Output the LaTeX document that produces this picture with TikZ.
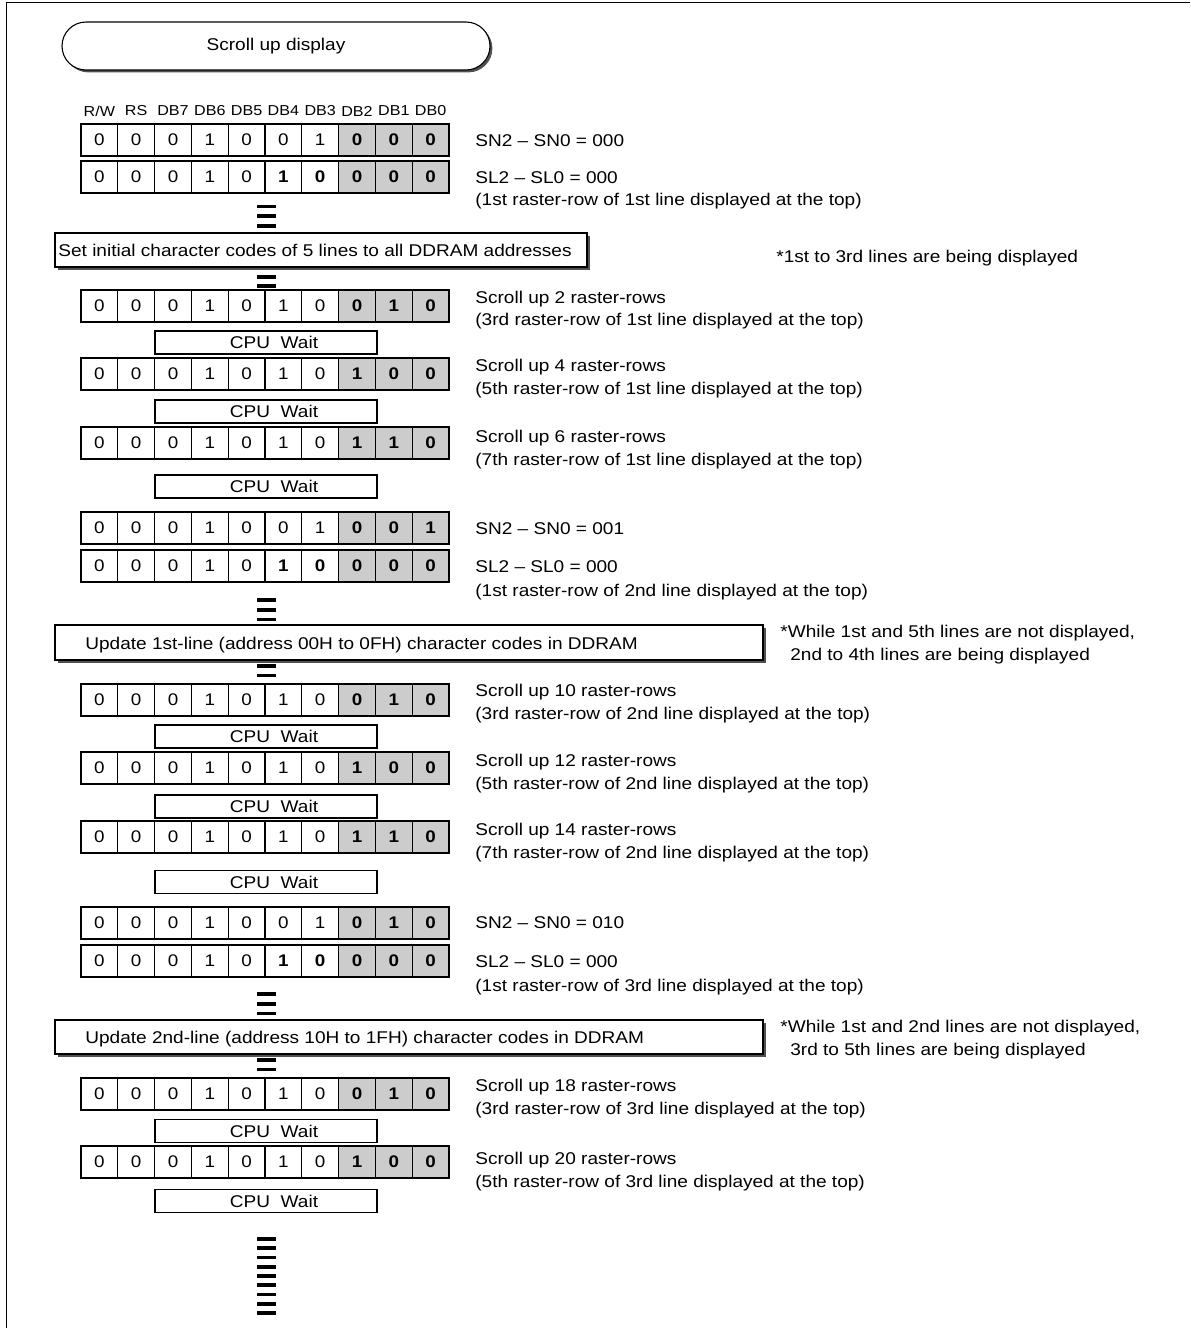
\documentclass[tikz,border=0pt]{standalone}
\usepackage{fontspec}
\setmainfont{Liberation Sans}[FakeStretch=1.12]
\usetikzlibrary{shadows,shapes.misc}
\definecolor{cellgray}{HTML}{CCCCCC}
\definecolor{shadowgray}{HTML}{505050}
\tikzset{
  cell/.style={draw, line width=0.55pt, minimum width=18.4pt, minimum height=16pt,
    inner sep=0pt, font=\fontsize{8.4}{9}\selectfont},
  gcell/.style={cell, fill=cellgray, font=\fontsize{8.4}{9}\selectfont\bfseries},
  hdr/.style={inner sep=0pt, font=\fontsize{7.2}{8}\selectfont},
  note/.style={anchor=west, inner sep=0pt, text height=6.1pt, text depth=0pt,
    font=\fontsize{8.5}{9.5}\selectfont},
  waitbox/.style={draw, line width=0.55pt, minimum width=111pt, minimum height=11.5pt,
    inner sep=0pt, font=\fontsize{8.5}{9}\selectfont},
  bigbox/.style={draw, fill=white, line width=0.55pt, inner sep=0pt,
    drop shadow={shadow xshift=1.4pt, shadow yshift=-1.4pt, fill=shadowgray, opacity=1}},
  boxtext/.style={anchor=west, inner sep=0pt, text height=6.1pt, text depth=0pt,
    font=\fontsize{8.5}{9.5}\selectfont},
  bar/.style={fill=black},
}
\newcommand\waittext{\hspace*{8pt}CPU\ \ Wait}
% #1 name, #2 top y (px), #3 ten entries
\newcommand\bitrow[3]{%
  \foreach \v [count=\i] in {#3} {%
    \ifnum\i>7
      \node[gcell] (#1-\i) at ({81+(\i-0.5)*36.8},{#2+16}) {\v};
    \else
      \node[cell] (#1-\i) at ({81+(\i-0.5)*36.8},{#2+16}) {\v};
    \fi
  }%
}
% #1 first centre y, #2 count, #3 spacing
\newcommand\barstack[3]{%
  \foreach \k in {1,...,#2} {%
    \fill[bar] (257,{#1+(\k-1)*#3-1.9}) rectangle (276,{#1+(\k-1)*#3+1.9});
  }%
}
\begin{document}
\begin{tikzpicture}[x=0.5pt,y=-0.5pt]
\useasboundingbox (0,0) rectangle (1190,1328);
% frame
\draw[line width=0.8pt] (6.5,1328) -- (6.5,2.5) -- (1190,2.5);

% separator bars (drawn first, boxes overlap them)
\barstack{206.5}{3}{9.8}
\barstack{267}{3}{9.6}
\barstack{600}{3}{9.7}
\barstack{656}{3}{9.7}
\barstack{994}{3}{9.7}
\barstack{1050}{3}{9.7}
\barstack{1239}{9}{9.25}

% title
\node[draw, fill=white, line width=0.55pt, rounded rectangle, minimum width=214pt,
  minimum height=24pt, inner sep=0pt,
  drop shadow={shadow xshift=1.2pt, shadow yshift=-1.2pt, fill=shadowgray, opacity=1},
  font=\fontsize{8.5}{9}\selectfont] (title) at (276,46) {Scroll up display};

% header
\foreach \h [count=\i] in {R/W,RS,DB7,DB6,DB5,DB4,DB3,DB2,DB1,DB0} {
  \node[hdr] (hdr-\i) at ({81+(\i-0.5)*36.8},111) {\h};
}

% block A
\bitrow{a1}{124}{0,0,0,1,0,0,1,0,0,0}
\bitrow{a2}{161}{0,0,0,1,0,\textbf{1},\textbf{0},0,0,0}
\node[note] (na1) at (475,140) {SN2 -- SN0 = 000};
\node[note] (na2) at (475,177) {SL2 -- SL0 = 000};
\node[note] (na3) at (475,199) {(1st raster-row of 1st line displayed at the top)};

\node[bigbox, minimum width=266pt, minimum height=17pt] (setinit) at (321,250) {};
\node[boxtext] (setinittxt) at (58,250) {Set initial character codes of 5 lines to all DDRAM addresses};
\node[note] (star1) at (776,256) {*1st to 3rd lines are being displayed};

% block B
\bitrow{b1}{290}{0,0,0,1,0,1,0,0,1,0}
\node[note] (nb1) at (475,297) {Scroll up 2 raster-rows};
\node[note] (nb1b) at (475,319) {(3rd raster-row of 1st line displayed at the top)};
\node[waitbox] (w1) at (266,342.5) {\waittext};
\bitrow{b2}{358}{0,0,0,1,0,1,0,1,0,0}
\node[note] (nb2) at (475,365) {Scroll up 4 raster-rows};
\node[note] (nb2b) at (475,388) {(5th raster-row of 1st line displayed at the top)};
\node[waitbox] (w2) at (266,411.5) {\waittext};
\bitrow{b3}{427}{0,0,0,1,0,1,0,1,1,0}
\node[note] (nb3) at (475,436) {Scroll up 6 raster-rows};
\node[note] (nb3b) at (475,459) {(7th raster-row of 1st line displayed at the top)};
\node[waitbox] (w3) at (266,486.5) {\waittext};

% block C
\bitrow{c1}{512}{0,0,0,1,0,0,1,0,0,1}
\bitrow{c2}{550}{0,0,0,1,0,\textbf{1},\textbf{0},0,0,0}
\node[note] (nc1) at (475,528) {SN2 -- SN0 = 001};
\node[note] (nc2) at (475,566) {SL2 -- SL0 = 000};
\node[note] (nc3) at (475,590) {(1st raster-row of 2nd line displayed at the top)};

\node[bigbox, minimum width=354pt, minimum height=17.5pt] (upd1) at (409,642.5) {};
\node[boxtext] (upd1txt) at (85,643) {Update 1st-line (address 00H to 0FH) character codes in DDRAM};
\node[note] (star2) at (780,631) {*While 1st and 5th lines are not displayed,};
\node[note] (star2b) at (790,654) {2nd to 4th lines are being displayed};

% block D
\bitrow{d1}{684}{0,0,0,1,0,1,0,0,1,0}
\node[note] (nd1) at (475,690) {Scroll up 10 raster-rows};
\node[note] (nd1b) at (475,713) {(3rd raster-row of 2nd line displayed at the top)};
\node[waitbox] (w4) at (266,736.5) {\waittext};
\bitrow{d2}{752}{0,0,0,1,0,1,0,1,0,0}
\node[note] (nd2) at (475,760) {Scroll up 12 raster-rows};
\node[note] (nd2b) at (475,783) {(5th raster-row of 2nd line displayed at the top)};
\node[waitbox] (w5) at (266,806.5) {\waittext};
\bitrow{d3}{821}{0,0,0,1,0,1,0,1,1,0}
\node[note] (nd3) at (475,829) {Scroll up 14 raster-rows};
\node[note] (nd3b) at (475,852) {(7th raster-row of 2nd line displayed at the top)};
\node[waitbox] (w6) at (266,882) {\waittext};

% block E
\bitrow{e1}{907}{0,0,0,1,0,0,1,0,1,0}
\bitrow{e2}{945}{0,0,0,1,0,\textbf{1},\textbf{0},0,0,0}
\node[note] (ne1) at (475,922) {SN2 -- SN0 = 010};
\node[note] (ne2) at (475,961) {SL2 -- SL0 = 000};
\node[note] (ne3) at (475,985) {(1st raster-row of 3rd line displayed at the top)};

\node[bigbox, minimum width=354pt, minimum height=17pt] (upd2) at (409,1037) {};
\node[boxtext] (upd2txt) at (85,1037) {Update 2nd-line (address 10H to 1FH) character codes in DDRAM};
\node[note] (star3) at (780,1026) {*While 1st and 2nd lines are not displayed,};
\node[note] (star3b) at (790,1049) {3rd to 5th lines are being displayed};

% block F
\bitrow{f1}{1078}{0,0,0,1,0,1,0,0,1,0}
\node[note] (nf1) at (475,1085) {Scroll up 18 raster-rows};
\node[note] (nf1b) at (475,1108) {(3rd raster-row of 3rd line displayed at the top)};
\node[waitbox] (w7) at (266,1131) {\waittext};
\bitrow{f2}{1146}{0,0,0,1,0,1,0,1,0,0}
\node[note] (nf2) at (475,1158) {Scroll up 20 raster-rows};
\node[note] (nf2b) at (475,1181) {(5th raster-row of 3rd line displayed at the top)};
\node[waitbox] (w8) at (266,1201) {\waittext};
\end{tikzpicture}
\end{document}
